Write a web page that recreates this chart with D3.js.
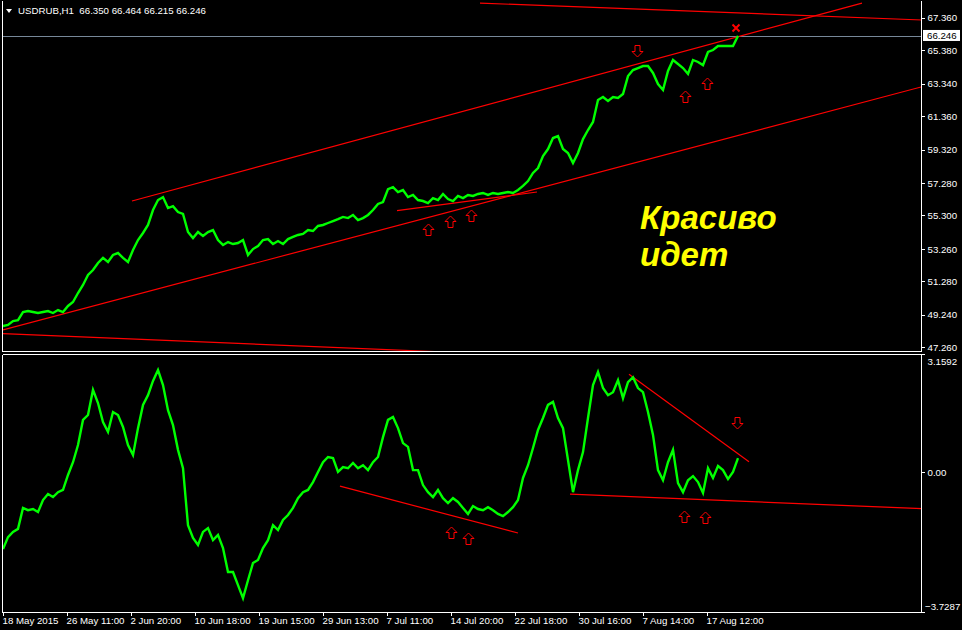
<!DOCTYPE html>
<html><head><meta charset="utf-8">
<script src="https://cdn.jsdelivr.net/npm/d3@7"></script>
<style>html,body{margin:0;padding:0;background:#000;overflow:hidden}svg{display:block}</style>
</head><body><svg id="c" width="962" height="630"></svg>
<script>
// ---------------- data ----------------
const symbol = "USDRUB,H1";
const ohlc = ["66.350", "66.464", "66.215", "66.246"];
const lastPrice = 66.246;
const barStep = 5; // closes sampled every 5 hourly bars
const mainClose = [
  48.56, 48.62, 48.86, 48.92, 49.41, 49.47, 49.41, 49.35, 49.41, 49.47, 49.35, 49.53, 49.41, 49.78, 50.02, 50.57, 51.06, 51.67, 51.97,
  52.40, 52.71, 52.46, 52.89, 53.01, 52.71, 52.46, 53.19, 53.80, 54.23,
  54.72, 55.63, 56.24, 56.42, 55.75, 55.87, 55.51, 55.39, 54.29, 53.92,
  54.29, 54.05, 54.29, 54.41, 53.80, 53.50, 53.68, 53.56, 53.62, 53.80,
  52.89, 53.25, 53.44, 53.80, 53.86, 53.56, 53.74, 53.56, 53.86, 53.99,
  54.11, 54.17, 54.41, 54.35, 54.66, 54.72, 54.84, 54.96, 55.08, 55.21,
  55.14, 55.33, 55.02, 55.14, 55.33, 55.63, 56.00, 56.12, 56.91, 57.03,
  56.73, 56.85, 56.42, 56.55, 56.24, 56.18, 56.06, 56.36, 56.24, 56.61,
  56.30, 56.18, 56.49, 56.36, 56.55, 56.49, 56.61, 56.67, 56.55, 56.67,
  56.61, 56.67, 56.73, 56.67, 56.85, 57.10, 57.40, 57.89, 58.19, 58.92,
  59.35, 60.02, 60.14, 59.35, 59.11, 58.50, 59.11, 59.96, 60.51, 61.00,
  62.34, 62.52, 62.28, 62.52, 62.46, 62.71, 63.80, 64.17, 64.29, 64.41,
  64.41, 63.99, 63.31, 62.95, 64.11, 64.78, 64.54, 64.29, 63.93, 64.78,
  64.66, 64.47, 65.27, 65.39, 65.63, 65.63, 65.63, 65.63, 66.25
];
const oscValues = [
  -2.05, -1.73, -1.59, -1.51, -0.95, -1.01, -0.98, -1.06, -0.74, -0.58,
  -0.66, -0.53, -0.47, -0.07, 0.27, 0.73, 1.40, 1.53, 2.20, 1.85,
  1.34, 1.08, 1.61, 1.53, 1.21, 0.73, 0.46, 1.18, 1.80, 2.06,
  2.44, 2.73, 2.33, 1.66, 1.26, 0.60, 0.11, -1.41, -1.75, -1.94,
  -1.59, -1.49, -1.81, -1.67, -2.02, -2.66, -2.66, -3.01, -3.36, -2.88,
  -2.42, -2.34, -2.02, -1.81, -1.41, -1.54, -1.27, -1.14, -0.95, -0.69,
  -0.53, -0.47, -0.26, 0.01, 0.27, 0.41, 0.38, 0.01, 0.14, 0.11,
  0.25, 0.11, 0.19, 0.06, 0.27, 0.41, 0.94, 1.40, 1.48, 1.18,
  0.78, 0.68, 0.06, 0.06, -0.34, -0.53, -0.66, -0.47, -0.69, -0.82,
  -0.69, -0.79, -0.95, -1.11, -0.90, -0.98, -1.01, -0.93, -1.01, -1.11,
  -1.17, -1.06, -0.93, -0.74, -0.15, 0.19, 0.65, 1.13, 1.45, 1.80,
  1.88, 1.45, 1.18, 0.33, -0.53, 0.06, 0.54, 1.45, 2.33, 2.68,
  2.25, 2.06, 2.14, 2.46, 1.98, 2.41, 2.54, 2.25, 2.14, 1.61,
  1.00, 0.06, -0.21, 0.27, 0.60, -0.29, -0.53, -0.21, -0.10, -0.26,
  -0.55, 0.11, -0.15, 0.17, 0.06, -0.18, 0.01, 0.38
];
const priceTicks = [67.36, 65.38, 63.34, 61.36, 59.32, 57.28, 55.30, 53.26, 51.28, 49.24, 47.26];
const oscTicks = [3.1592, 0.00, -3.7287];
const timeTickBars = [0, 64, 128, 192, 256, 320, 384, 448, 512, 576, 640, 704];
const timeTickLabels = ["18 May 2015", "26 May 11:00", "2 Jun 20:00", "10 Jun 18:00", "19 Jun 15:00", "29 Jun 13:00",
  "7 Jul 11:00", "14 Jul 20:00", "22 Jul 18:00", "30 Jul 16:00", "7 Aug 14:00", "17 Aug 12:00"];
// trendlines: [bar1, value1, bar2, value2]
const mainLines = [
  [129, 56.18, 859, 68.25],
  [0, 48.32, 919, 63.15],
  [477, 68.25, 919, 67.22],
  [0, 48.10, 470, 46.90],
  [394, 55.59, 534, 56.73]
];
const oscLines = [
  [337, -0.37, 515, -1.62],
  [567, -0.58, 919, -0.97],
  [626, 2.62, 746, 0.28]
];
// arrows: [bar, value, direction]
const mainArrows = [[425, 54.47, "up"], [447, 54.96, "up"], [468, 55.33, "up"], [634, 65.30, "down"], [682, 62.58, "up"], [704, 63.35, "up"]];
const mainStops = [[733, 66.73]];
const oscArrows = [[448, -1.59, "up"], [465, -1.74, "up"], [734, 1.32, "down"], [681, -1.17, "up"], [702, -1.19, "up"]];
const noteLines = ["Красиво", "идет"];

// ---------------- drawing ----------------
const svg = d3.select("#c");
const W = 962, H = 630;
const left = 3, right = 922;
const mainTop = 0, mainBottom = 351, subTop = 354, subBottom = 612;
const FONT = "Tahoma, 'Liberation Sans', Arial, sans-serif";
const FS = 9.7;

svg.append("rect").attr("width", W).attr("height", H).attr("fill", "#000");

const x = d3.scaleLinear().domain([0, 919]).range([left, right]);
const y = d3.scaleLinear().domain([47.26, 67.36]).range([347.3, 17.7]);
const yo = d3.scaleLinear().domain([-3.7287, 3.1592]).range([subBottom, subTop]);

const defs = svg.append("defs");
defs.append("clipPath").attr("id", "cm").append("rect")
  .attr("x", left).attr("y", mainTop).attr("width", right - left).attr("height", mainBottom - mainTop);
defs.append("clipPath").attr("id", "cs").append("rect")
  .attr("x", left).attr("y", subTop).attr("width", right - left).attr("height", subBottom - subTop);

const gm = svg.append("g").attr("clip-path", "url(#cm)");
const gs = svg.append("g").attr("clip-path", "url(#cs)");

// last price line
gm.append("line").attr("x1", left).attr("x2", right)
  .attr("y1", Math.round(y(lastPrice)) + 0.5).attr("y2", Math.round(y(lastPrice)) + 0.5)
  .attr("stroke", "#778899").attr("stroke-width", 1);

// trendlines
gm.selectAll("line.tl").data(mainLines).join("line").attr("class", "tl")
  .attr("x1", d => x(d[0])).attr("y1", d => y(d[1]))
  .attr("x2", d => x(d[2])).attr("y2", d => y(d[3]))
  .attr("stroke", "#ff0000").attr("stroke-width", 1.2);
gs.selectAll("line.tl").data(oscLines).join("line").attr("class", "tl")
  .attr("x1", d => x(d[0])).attr("y1", d => yo(d[1]))
  .attr("x2", d => x(d[2])).attr("y2", d => yo(d[3]))
  .attr("stroke", "#ff0000").attr("stroke-width", 1.2);

// price line
const lineMain = d3.line().x((d, i) => x(i * barStep)).y(d => y(d));
gm.append("path").datum(mainClose).attr("d", lineMain)
  .attr("fill", "none").attr("stroke", "#00ff00").attr("stroke-width", 2.4).attr("stroke-linejoin", "miter");
const lineOsc = d3.line().x((d, i) => x(i * barStep)).y(d => yo(d));
gs.append("path").datum(oscValues).attr("d", lineOsc)
  .attr("fill", "none").attr("stroke", "#00ff00").attr("stroke-width", 2.4).attr("stroke-linejoin", "miter");

// arrows
const upArrow = "M0,-5.5 L5.5,0 L2.5,0 L2.5,6 L-2.5,6 L-2.5,0 L-5.5,0 Z";
const downArrow = "M0,5.5 L5.5,0 L2.5,0 L2.5,-6 L-2.5,-6 L-2.5,0 L-5.5,0 Z";
function drawArrows(g, data, ys) {
  g.selectAll("path.arr").data(data).join("path").attr("class", "arr")
    .attr("transform", d => `translate(${Math.round(x(d[0])) + 0.5},${Math.round(ys(d[1])) + 0.5})`)
    .attr("d", d => d[2] === "up" ? upArrow : downArrow)
    .attr("fill", "#000").attr("stroke", "#ff0000").attr("stroke-width", 1);
}
drawArrows(gm, mainArrows, y);
drawArrows(gs, oscArrows, yo);
gm.selectAll("path.stop").data(mainStops).join("path").attr("class", "stop")
  .attr("transform", d => `translate(${x(d[0])},${y(d[1])})`)
  .attr("d", "M-3.5,-3.5 L3.5,3.5 M3.5,-3.5 L-3.5,3.5")
  .attr("stroke", "#ff0000").attr("stroke-width", 2);

// note text
const note = svg.append("text").attr("fill", "#ffff00")
  .attr("font-family", "'Liberation Sans', Arial, sans-serif").attr("font-weight", "bold").attr("font-style", "italic").attr("font-size", 33);
note.selectAll("tspan").data(noteLines).join("tspan")
  .attr("x", 640).attr("y", (d, i) => 229 + i * 37).text(d => d);

// frames
const frame = svg.append("g").attr("stroke", "#fff").attr("stroke-width", 1).attr("shape-rendering", "crispEdges");
[[left, mainTop, left, mainBottom], [right, mainTop, right, mainBottom], [left, mainBottom, right, mainBottom],
 [left, subTop, right, subTop], [left, subTop, left, subBottom], [right, subTop, right, subBottom], [left, subBottom, right, subBottom]]
  .forEach(s => frame.append("line").attr("x1", s[0] - 0.5).attr("y1", s[1] + 0.5).attr("x2", s[2] - 0.5).attr("y2", s[3] + 0.5));

function styleAxis(g) {
  g.select(".domain").remove();
  g.selectAll(".tick line").attr("stroke", "#fff").attr("shape-rendering", "crispEdges");
  g.selectAll(".tick text").attr("fill", "#fff").attr("font-family", FONT).attr("font-size", FS);
}

// price axis
const ga = svg.append("g").attr("transform", `translate(${right - 0.5},0)`)
  .call(d3.axisRight(y).tickValues(priceTicks).tickSize(3).tickPadding(3).tickFormat(d3.format(".3f")));
styleAxis(ga);

// oscillator axis
const go = svg.append("g").attr("transform", `translate(${right - 0.5},0)`)
  .call(d3.axisRight(yo).tickValues(oscTicks).tickSize(3).tickPadding(3)
    .tickFormat(d => d === 0 ? "0.00" : d3.format(".4f")(d)));
styleAxis(go);
go.selectAll(".tick text")
  .attr("dy", d => d === oscTicks[0] ? "1.05em" : d === oscTicks[2] ? "-0.25em" : "0.32em")
  .attr("x", d => d === oscTicks[2] ? 3.5 : 6);

// time axis
const gt = svg.append("g").attr("transform", `translate(0,${subBottom + 0.5})`)
  .call(d3.axisBottom(x).tickValues(timeTickBars).tickSize(3).tickFormat((d, i) => timeTickLabels[i]));
styleAxis(gt);
gt.selectAll(".tick line").attr("transform", "translate(-0.5,0)");
gt.selectAll(".tick text").attr("text-anchor", "start").attr("x", -1).attr("y", 5).attr("dy", "0.71em");

// last price label
const ly = y(lastPrice);
svg.append("rect").attr("x", right + 1).attr("y", ly - 6).attr("width", 37).attr("height", 11).attr("fill", "#fff");
svg.append("text").attr("x", right + 5).attr("y", ly).attr("dy", "0.35em").attr("fill", "#000")
  .attr("font-family", FONT).attr("font-size", FS).text(lastPrice.toFixed(3));

// header
svg.append("path").attr("d", "M6,9 L12,9 L9,13 Z").attr("fill", "#fff");
svg.append("text").attr("x", 18).attr("y", 14).attr("fill", "#fff").attr("font-family", FONT).attr("font-size", FS)
  .attr("xml:space", "preserve").text(symbol + "  " + ohlc.join(" "));
</script></body></html>
